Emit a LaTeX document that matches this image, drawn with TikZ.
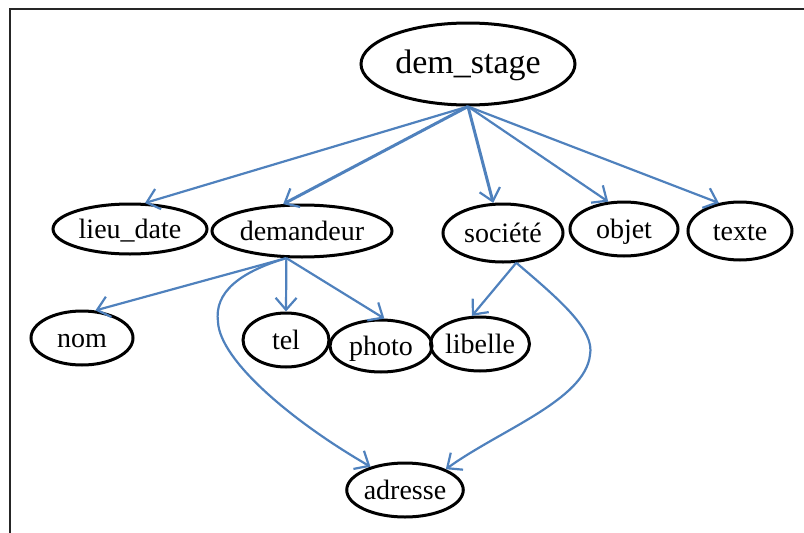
\documentclass[tikz,border=0pt]{standalone}
\usepackage{fontspec}
\setmainfont{Liberation Serif}
\usetikzlibrary{shapes.geometric,arrows.meta}
\definecolor{edgeblue}{RGB}{79,129,189}
\tikzset{
  ent/.style={ellipse, draw=black, line width=3pt, inner sep=0pt,
    font=\fontsize{28}{30}\selectfont, text height=24pt, text depth=5pt},
  link/.style={draw=edgeblue, line width=2.2pt, -{Straight Barb[length=12pt,width=21pt,line width=2.2pt]}},
  boldlink/.style={link, line width=3pt},
  frameline/.style={draw=black!85, line width=1.6pt}
}
\begin{document}
\begin{tikzpicture}[x=1pt,y=-1pt]
\useasboundingbox (0,0) rectangle (804,533);
\draw[frameline] (10,533) -- (10,9) -- (804,9);

\node[ent, minimum width=214pt, minimum height=82pt, font=\fontsize{34}{36}\selectfont, text height=27pt, text depth=8pt] (dem) at (468,64) {dem\_stage};
\node[ent, minimum width=154pt, minimum height=50pt] (lieu) at (130,229) {lieu\_date};
\node[ent, minimum width=180pt, minimum height=52pt] (dmd) at (302,231) {demandeur};
\node[ent, minimum width=120pt, minimum height=58pt] (soc) at (503,233) {société};
\node[ent, minimum width=108pt, minimum height=54pt] (obj) at (624,229) {objet};
\node[ent, minimum width=104pt, minimum height=58pt] (tex) at (740,231) {texte};
\node[ent, minimum width=102pt, minimum height=54pt] (nom) at (82,338) {nom};
\node[ent, minimum width=86pt, minimum height=54pt] (tel) at (286,340) {tel};
\node[ent, minimum width=102pt, minimum height=52pt] (photo) at (381,346) {photo};
\node[ent, minimum width=94pt, minimum height=54pt] (lib) at (480,344) {libelle};
\node[ent, minimum width=116pt, minimum height=54pt] (adr) at (405,490) {adresse};

\draw[link] (dem.south) -- (lieu.60);
\draw[boldlink] (dem.south) -- (dmd.125);
\draw[boldlink] (dem.south) -- (soc.108);
\draw[link] (dem.south) -- (obj.120);
\draw[link] (dem.south) -- (tex.127);

\draw[link] (dmd.240) -- (nom.64);
\draw[link] (dmd.240) -- (tel.north);
\draw[link] (dmd.240) -- (photo.83);
\draw[link] (dmd.240) .. controls (240,272) and (214,292) .. (218,322)
  .. controls (220,360) and (290,420) .. (adr.146);

\draw[link] (soc.294) -- (lib.106);
\draw[link] (soc.294) .. controls (560,300) and (595,330) .. (590,355)
  .. controls (585,400) and (500,430) .. (adr.27);
\end{tikzpicture}
\end{document}
